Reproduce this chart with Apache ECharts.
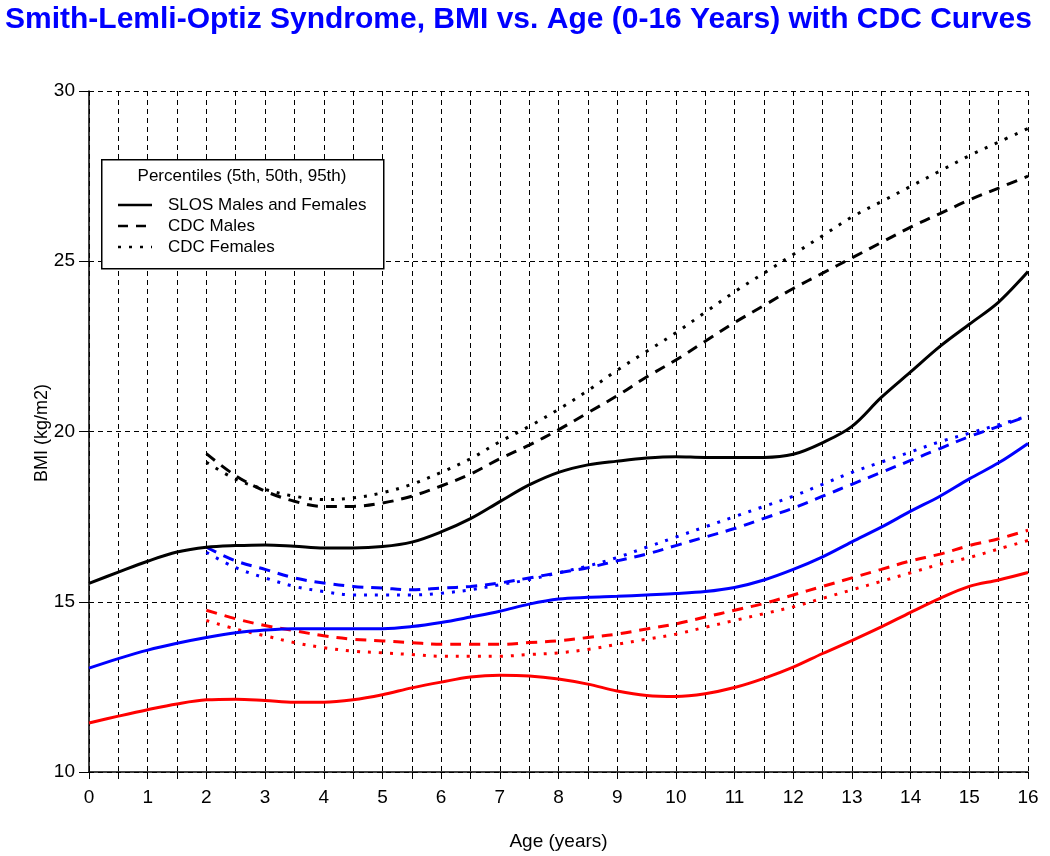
<!DOCTYPE html>
<html>
<head>
<meta charset="utf-8">
<script src="https://cdn.jsdelivr.net/npm/echarts@6/dist/echarts.min.js"></script>
<style>
html,body{margin:0;padding:0;background:#fff;}
#chart{width:1050px;height:856px;}
</style>
</head>
<body>
<div id="chart"></div>
<script>
// ---- Data (BMI, kg/m2) ----
const slosAges = [0,0.5,1,1.5,2,2.5,3,3.5,4,4.5,5,5.5,6,6.5,7,7.5,8,8.5,9,9.5,10,10.5,11,11.5,12,12.5,13,13.5,14,14.5,15,15.5,16];
const slos95 = [15.54,15.87,16.19,16.46,16.6,16.65,16.67,16.63,16.58,16.58,16.62,16.75,17.05,17.44,17.94,18.43,18.8,19.02,19.13,19.22,19.26,19.24,19.24,19.24,19.33,19.67,20.15,21.0,21.75,22.5,23.15,23.8,24.7];
const slos50 = [13.05,13.33,13.58,13.78,13.95,14.09,14.17,14.21,14.21,14.21,14.21,14.27,14.39,14.55,14.72,14.93,15.08,15.13,15.16,15.2,15.24,15.3,15.42,15.64,15.95,16.32,16.76,17.19,17.66,18.1,18.61,19.08,19.65];
const slos5  = [11.44,11.64,11.83,12.0,12.12,12.14,12.1,12.05,12.05,12.12,12.27,12.47,12.64,12.79,12.84,12.82,12.73,12.58,12.38,12.25,12.22,12.3,12.48,12.75,13.08,13.48,13.86,14.26,14.69,15.1,15.45,15.64,15.86];

const cdcAges = [2,2.5,3,3.5,4,4.5,5,5.5,6,6.5,7,7.5,8,8.5,9,9.5,10,10.5,11,11.5,12,12.5,13,13.5,14,14.5,15,15.5,16];
const cdcMale95 = [19.35,18.7,18.25,17.95,17.8,17.8,17.9,18.1,18.4,18.75,19.2,19.6,20.05,20.55,21.05,21.6,22.1,22.65,23.2,23.7,24.2,24.65,25.1,25.55,26.0,26.4,26.8,27.15,27.5];
const cdcFemale95 = [19.1,18.6,18.3,18.1,18.0,18.05,18.2,18.45,18.8,19.2,19.7,20.15,20.65,21.2,21.8,22.35,22.9,23.5,24.1,24.65,25.2,25.75,26.3,26.75,27.2,27.65,28.1,28.5,28.9];
const cdcMale50 = [16.6,16.2,15.95,15.7,15.55,15.45,15.4,15.35,15.4,15.45,15.55,15.7,15.85,16.0,16.2,16.4,16.65,16.9,17.15,17.45,17.75,18.1,18.45,18.8,19.15,19.5,19.85,20.15,20.45];
const cdcFemale50 = [16.45,16.0,15.7,15.45,15.3,15.2,15.2,15.2,15.25,15.35,15.5,15.65,15.85,16.05,16.3,16.6,16.9,17.2,17.5,17.8,18.1,18.45,18.8,19.1,19.4,19.7,19.95,20.2,20.45];
const cdcMale5 = [14.75,14.5,14.3,14.15,14.0,13.9,13.85,13.8,13.75,13.75,13.75,13.8,13.85,13.95,14.05,14.2,14.35,14.55,14.75,14.95,15.2,15.45,15.7,15.95,16.2,16.4,16.65,16.85,17.1];
const cdcFemale5 = [14.45,14.2,14.0,13.8,13.65,13.55,13.5,13.45,13.4,13.4,13.4,13.45,13.5,13.6,13.75,13.9,14.05,14.25,14.45,14.65,14.85,15.1,15.35,15.6,15.85,16.1,16.3,16.55,16.8];

const xTicks = [0,1,2,3,4,5,6,7,8,9,10,11,12,13,14,15,16];
const yTicks = [10,15,20,25,30];

const titleText = 'Smith-Lemli-Optiz Syndrome, BMI vs. Age (0-16 Years) with CDC Curves';
const yAxisTitle = 'BMI (kg/m2)';
const legendTitle = 'Percentiles (5th, 50th, 95th)';
const legendLabels = ['SLOS Males and Females','CDC Males','CDC Females'];

function pairs(xs, ys){ return xs.map((x,i)=>[x, ys[i]]); }

const FONT = '"Liberation Sans", Arial, sans-serif';
const LFONT = '17px "Liberation Sans", Arial, sans-serif';

function mk(name, xs, ys, color, type){
  return {
    name: name, type: 'line', data: pairs(xs, ys), smooth: 0.35,
    showSymbol: false, symbol: 'none', silent: true,
    lineStyle: {color: color, width: 3, type: type, cap: 'butt'},
    z: 5
  };
}

const dashed = [11, 8];
const dotted = [3, 8];

const chart = echarts.init(document.getElementById('chart'), null, {renderer: 'canvas'});
chart.setOption({
  animation: false,
  backgroundColor: '#ffffff',
  title: {
    text: titleText, left: 0, top: 0,
    textStyle: {color: '#0000ff', fontSize: 30, fontWeight: 'bold', fontFamily: FONT}
  },
  grid: {left: 89, right: 22, top: 91, bottom: 81, containLabel: false},
  xAxis: {
    type: 'value', min: 0, max: 16, interval: 0.5,
    name: 'Age (years)', nameLocation: 'middle', nameGap: 60,
    nameTextStyle: {color: '#000', fontSize: 19, fontFamily: FONT},
    axisLine: {show: true, onZero: false, lineStyle: {color: '#000', width: 1.5}},
    axisTick: {show: true, length: 7, lineStyle: {color: '#000', width: 1}},
    axisLabel: {
      color: '#000', fontSize: 19, fontFamily: FONT, margin: 16,
      formatter: v => (xTicks.indexOf(v) >= 0 ? String(v) : '')
    },
    splitLine: {show: true, lineStyle: {color: '#000', width: 1, type: [5, 4]}}
  },
  yAxis: {
    type: 'value', min: 10, max: 30, interval: 5,
    axisLine: {show: true, onZero: false, lineStyle: {color: '#000', width: 1.5}},
    axisTick: {show: true, length: 10, lineStyle: {color: '#000', width: 1}},
    axisLabel: {
      color: '#000', fontSize: 19, fontFamily: FONT, margin: 14,
      formatter: v => (yTicks.indexOf(v) >= 0 ? String(v) : '')
    },
    splitLine: {show: true, lineStyle: {color: '#000', width: 1, type: [5, 4]}}
  },
  series: [
    mk('CDC Males 95th', cdcAges, cdcMale95, '#000000', dashed),
    mk('CDC Females 95th', cdcAges, cdcFemale95, '#000000', dotted),
    mk('CDC Males 50th', cdcAges, cdcMale50, '#0000ff', dashed),
    mk('CDC Females 50th', cdcAges, cdcFemale50, '#0000ff', dotted),
    mk('CDC Males 5th', cdcAges, cdcMale5, '#ff0000', dashed),
    mk('CDC Females 5th', cdcAges, cdcFemale5, '#ff0000', dotted),
    mk('SLOS 95th', slosAges, slos95, '#000000', 'solid'),
    mk('SLOS 50th', slosAges, slos50, '#0000ff', 'solid'),
    mk('SLOS 5th', slosAges, slos5, '#ff0000', 'solid')
  ],
  graphic: [
    {type: 'text', z: 20, x: 42, y: 433, rotation: Math.PI / 2,
     style: {text: yAxisTitle, fill: '#000', font: '18px "Liberation Sans", Arial, sans-serif', align: 'center', verticalAlign: 'middle'}},
    {type: 'rect', left: 101, top: 159, z: 50,
     shape: {width: 282, height: 109},
     style: {fill: '#ffffff', stroke: '#000', lineWidth: 1.5}},
    {type: 'text', z: 51, x: 242, y: 176,
     style: {text: legendTitle, fill: '#000', font: LFONT, align: 'center', verticalAlign: 'middle'}},
    {type: 'line', z: 51, shape: {x1: 118, y1: 205, x2: 152, y2: 205}, style: {stroke: '#000', lineWidth: 2.5}},
    {type: 'line', z: 51, shape: {x1: 118, y1: 226, x2: 152, y2: 226}, style: {stroke: '#000', lineWidth: 2.5, lineDash: [10, 8]}},
    {type: 'line', z: 51, shape: {x1: 118, y1: 247, x2: 152, y2: 247}, style: {stroke: '#000', lineWidth: 2.5, lineDash: [3, 8]}},
    {type: 'text', z: 51, x: 168, y: 205, style: {text: legendLabels[0], fill: '#000', font: LFONT, verticalAlign: 'middle'}},
    {type: 'text', z: 51, x: 168, y: 226, style: {text: legendLabels[1], fill: '#000', font: LFONT, verticalAlign: 'middle'}},
    {type: 'text', z: 51, x: 168, y: 247, style: {text: legendLabels[2], fill: '#000', font: LFONT, verticalAlign: 'middle'}}
  ]
});
</script>
</body>
</html>
